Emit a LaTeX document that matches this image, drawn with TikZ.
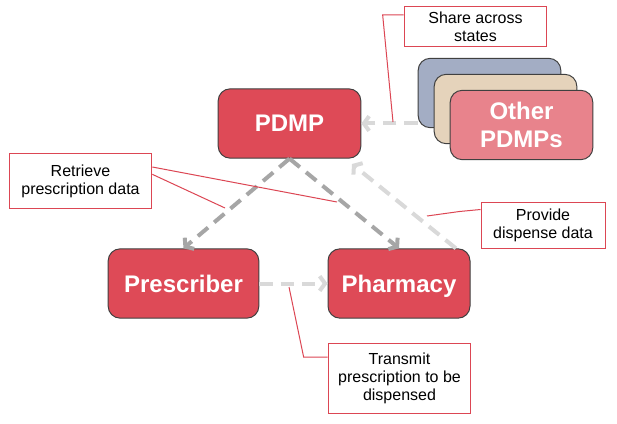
\documentclass[tikz,border=0pt]{standalone}
\usepackage{fontspec}
\setmainfont{Liberation Sans}
\usetikzlibrary{
  arrows.meta,
  positioning,
}
\definecolor{pdmpred}{HTML}{DE4A57}
\definecolor{otherpink}{HTML}{E8838C}
\definecolor{othertan}{HTML}{E5D3BB}
\definecolor{otherblue}{HTML}{A3ADC4}
\definecolor{boxline}{HTML}{404040}
\definecolor{calloutred}{HTML}{DC4653}
\definecolor{flowgray}{HTML}{A6A6A6}
\definecolor{flowlight}{HTML}{D9D9D9}

\begin{document}
\begin{tikzpicture}[
  x=0.75pt,
  y=-0.75pt,
  actor/.style n args={1}{
    draw=boxline,
    line width=0.75pt,
    rounded corners=9pt,
    fill=#1,
    text=white,
    inner sep=0pt,
    align=center,
    minimum width=107pt,
    minimum height=52pt,
    font={\bfseries\fontsize{18}{21}\selectfont},
  },
  callout/.style={
    draw=calloutred,
    line width=0.75pt,
    fill=white,
    inner sep=0pt,
    align=center,
    font={\fontsize{12}{13.5}\selectfont},
  },
  leader/.style={
    draw=calloutred,
    line width=0.75pt,
  },
  flow/.style={
    line width=3pt,
    dash pattern=on 10pt off 6pt,
    -{Straight Barb[length=4pt,width=11pt]},
  },
  dark flow/.style={
    flow,
    draw=flowgray,
  },
  light flow/.style={
    flow,
    draw=flowlight,
  },
]
  \fill[white] (0,0) rectangle (617,424);
  \useasboundingbox (0,0) rectangle (617,424);

  %%%%%%%%%%%%%%%%%%%% Actors %%%%%%%%%%%%%%%%%%%%

  \node[actor={pdmpred}] (pdmp) at (289.5,123.5) {PDMP};
  \node[actor={pdmpred},minimum width=113pt] (prescriber) at (183.5,283.5)
    {Prescriber};
  \node[actor={pdmpred},minimum width=106.5pt,text depth=0pt] (pharmacy)
    at (399,283.5) {Pharmacy};

  % Stack of other states
  \node[actor={otherblue}] (other-back) at (489.5,93) {};
  \node[actor={othertan}] (other-mid) at (505.5,109) {};
  \node[actor={otherpink}] (other-front) at (521.5,125) {Other\\PDMPs};

  %%%%%%%%%%%%%%%%%%%% Flows %%%%%%%%%%%%%%%%%%%%

  \draw[dark flow] (pdmp.south) to (prescriber.north);
  \draw[dark flow] (pdmp.south) to (pharmacy.north);
  \draw[light flow] ([xshift=-11pt]pharmacy.north east)
    to ([xshift=-7pt,yshift=-4pt]pdmp.south east);
  \draw[light flow] (pdmp.east -| other-back.west) to (pdmp.east);
  \draw[light flow] (prescriber.east) to (pharmacy.west);

  %%%%%%%%%%%%%%%%%%%% Callouts %%%%%%%%%%%%%%%%%%%%

  \node[callout,minimum width=107pt,minimum height=30pt] (share)
    at (475.5,27) {Share across\\states};
  \node[callout,minimum width=107pt,minimum height=40.5pt] (retrieve)
    at (80.5,181) {Retrieve\\prescription data};
  \node[callout,minimum width=93pt,minimum height=35pt] (provide)
    at (543,225.5) {Provide\\dispense data};
  \node[callout,minimum width=107pt,minimum height=52pt] (transmit)
    at (399.5,378.5) {Transmit\\prescription to be\\dispensed};

  \coordinate (share-end) at (393,122);
  \coordinate (retrieve-left) at (225,208);
  \coordinate (retrieve-right) at (337,202);
  \coordinate (provide-end) at (427,216);
  \coordinate (transmit-end) at (289,287);

  \draw[leader] ([yshift=9pt]share.west) -- ++(-21,0) -- (share-end);
  \draw[leader] ([yshift=10.5pt]retrieve.east) -- (retrieve-right);
  \draw[leader] ([yshift=5pt]retrieve.east) -- (retrieve-left);
  \draw[leader] ([yshift=12pt]provide.west) -- ++(-21,2) -- (provide-end);
  \draw[leader] ([yshift=16pt]transmit.west) -- ++(-24,0) -- (transmit-end);
\end{tikzpicture}
\end{document}
